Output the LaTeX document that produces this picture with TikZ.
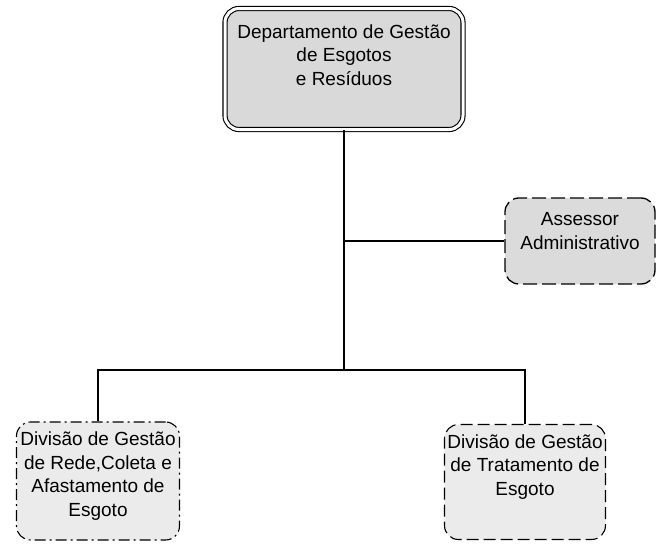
\documentclass[tikz,border=0pt]{standalone}
\usepackage{fontspec}
\setmainfont{Liberation Sans}
\usetikzlibrary{positioning}
\tikzset{
    x=1pt, y=1pt, % one unit is one point
    every node/.style={font=\fontsize{19}{23.5}\selectfont, align=center}, % text of all boxes
    unit/.style={draw, rounded corners=14pt, inner sep=2pt}, % common look of the boxes
    head/.style={unit, double, double distance=3pt, line width=1.1pt, fill=gray!30}, % top box
    staff/.style={unit, line width=1.3pt, dash pattern=on 14pt off 5pt, fill=gray!28}, % advisor box
    divA/.style={unit, line width=1.1pt, dash pattern=on 11pt off 4pt on 2pt off 4pt, fill=gray!16}, % dash-dot box
    divB/.style={unit, line width=1.1pt, dash pattern=on 12pt off 5pt, fill=gray!16}, % dashed box
    link/.style={line width=1.2pt}, % connectors
}
\begin{document}
\begin{tikzpicture}
    \useasboundingbox (0,0) rectangle (657,-546);
    \node[head, minimum width=238, minimum height=121, text depth=28pt] (dep) at (344,-69)
        {Departamento de Gestão\\de Esgotos\\e Resíduos};
    \node[staff, minimum width=150, minimum height=86, text depth=20pt] (ass) at (580,-241)
        {Assessor\\Administrativo};
    \node[divA, minimum width=163, minimum height=118, text depth=14pt] (div1) at (98,-481)
        {Divisão de Gestão\\de Rede,Coleta e\\Afastamento de\\Esgoto};
    \node[divB, minimum width=161, minimum height=115, text depth=34pt] (div2) at (525,-482)
        {Divisão de Gestão\\de Tratamento de\\Esgoto};
    \coordinate (j1) at (dep.south |- ass.west);
    \coordinate (j2) at ([yshift=-240]dep.south);
    \draw[link] (dep.south) -- (j2);
    \draw[link] (j1) -- (ass.west);
    \draw[link] (div1.north) |- (j2) -| (div2.north);
\end{tikzpicture}
\end{document}
